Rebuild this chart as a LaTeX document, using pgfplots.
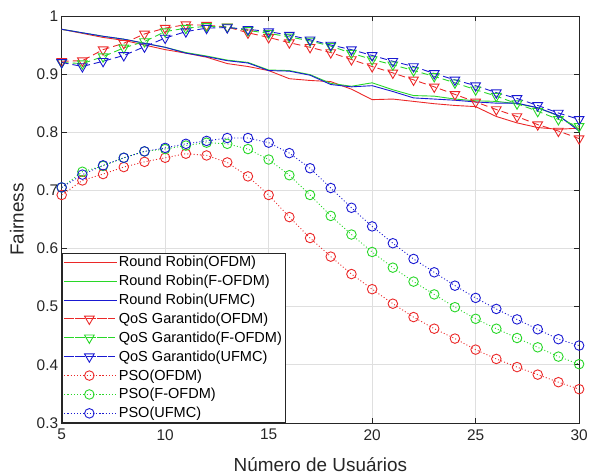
\documentclass[border=0pt]{standalone}
\usepackage{fontspec}
\setmainfont{Liberation Sans}
\usepackage{pgfplots}
\pgfplotsset{compat=1.18}

\definecolor{mred}{RGB}{235,40,40}
\definecolor{mgreen}{RGB}{40,215,40}
\definecolor{mblue}{RGB}{25,25,210}

\pgfplotsset{
    rr/.style={color=#1, draw=#1, line width=0.9pt, mark=none},
    qos/.style={color=#1, draw=#1, line width=0.9pt, dash pattern=on 7pt off 4pt,
        mark=triangle, mark size=5.6pt, mark options={solid, rotate=180, draw=#1, fill=none}},
    pso/.style={color=#1, draw=#1, line width=0.9pt, dash pattern=on 1pt off 2.2pt,
        mark=o, mark size=4.8pt, mark options={solid, draw=#1}},
}

\begin{document}
\begin{tikzpicture}
\begin{axis}[
    name=ax,
    scale only axis,
    width=520pt, height=409pt,
    xmin=5, xmax=30, ymin=0.3, ymax=1,
    xtick={5,10,...,30},
    ytick={0.3,0.4,...,1.0},
    yticklabels={0.3,0.4,0.5,0.6,0.7,0.8,0.9,1},
    grid=major,
    major grid style={gray!25, line width=0.6pt},
    axis line style={black!85, line width=0.7pt},
    tick style={black!85, line width=0.7pt},
    tick align=inside,
    major tick length=5pt,
    /pgf/number format/assume math mode=true,
    ticklabel style={font=\fontsize{15.5}{18}\selectfont, text=black!85},
    xticklabel style={yshift=-3pt},
    xlabel={Número de Usuários},
    ylabel={Fairness},
    label style={font=\fontsize{19}{22}\selectfont, text=black!85},
    xlabel style={yshift=-10pt},
    ylabel style={yshift=6pt},
    legend cell align=left,
    legend style={at={(0,0)}, anchor=south west, draw=black!85, line width=0.7pt,
        font=\fontsize{14.6}{16}\selectfont, row sep=4.5pt, inner sep=2pt,
        nodes={inner sep=1.2pt}},
    legend image code/.code={
        \path (0pt,0pt) -- (53pt,0pt);
        \draw[mark repeat=2,mark phase=2,#1] plot coordinates {(3pt,0pt) (25pt,0pt) (47pt,0pt)};},
]
% Round Robin
\addplot[rr=mred] coordinates {
(5,0.977)(6,0.970)(7,0.963)(8,0.958)(9,0.950)(10,0.942)(11,0.936)(12,0.929)(13,0.918)(14,0.913)(15,0.906)
(16,0.892)(17,0.889)(18,0.887)(19,0.874)(20,0.856)(21,0.857)(22,0.853)(23,0.849)(24,0.846)(25,0.844)
(26,0.827)(27,0.816)(28,0.808)(29,0.805)(30,0.807)};
\addplot[rr=mgreen] coordinates {
(5,0.977)(6,0.971)(7,0.965)(8,0.960)(9,0.953)(10,0.946)(11,0.937)(12,0.931)(13,0.924)(14,0.920)(15,0.907)
(16,0.906)(17,0.899)(18,0.884)(19,0.879)(20,0.885)(21,0.873)(22,0.863)(23,0.862)(24,0.857)(25,0.854)
(26,0.853)(27,0.849)(28,0.842)(29,0.828)(30,0.805)};
\addplot[rr=mblue] coordinates {
(5,0.977)(6,0.971)(7,0.965)(8,0.960)(9,0.953)(10,0.946)(11,0.936)(12,0.930)(13,0.923)(14,0.919)(15,0.906)
(16,0.905)(17,0.898)(18,0.882)(19,0.878)(20,0.880)(21,0.870)(22,0.859)(23,0.857)(24,0.855)(25,0.852)
(26,0.850)(27,0.850)(28,0.842)(29,0.829)(30,0.802)};
% QoS Garantido
\addplot[qos=mred] coordinates {
(5,0.922)(6,0.923)(7,0.942)(8,0.953)(9,0.969)(10,0.979)(11,0.985)(12,0.984)(13,0.981)(14,0.971)(15,0.963)
(16,0.954)(17,0.946)(18,0.937)(19,0.925)(20,0.913)(21,0.902)(22,0.890)(23,0.878)(24,0.865)(25,0.852)
(26,0.839)(27,0.827)(28,0.813)(29,0.802)(30,0.789)};
\addplot[qos=mgreen] coordinates {
(5,0.920)(6,0.918)(7,0.930)(8,0.945)(9,0.956)(10,0.973)(11,0.979)(12,0.982)(13,0.981)(14,0.975)(15,0.970)
(16,0.964)(17,0.957)(18,0.948)(19,0.936)(20,0.925)(21,0.916)(22,0.906)(23,0.896)(24,0.885)(25,0.873)
(26,0.862)(27,0.849)(28,0.836)(29,0.822)(30,0.810)};
\addplot[qos=mblue] coordinates {
(5,0.920)(6,0.913)(7,0.922)(8,0.932)(9,0.947)(10,0.962)(11,0.973)(12,0.979)(13,0.980)(14,0.977)(15,0.973)
(16,0.967)(17,0.959)(18,0.950)(19,0.942)(20,0.932)(21,0.922)(22,0.913)(23,0.901)(24,0.890)(25,0.880)
(26,0.868)(27,0.858)(28,0.846)(29,0.833)(30,0.822)};
% PSO
\addplot[pso=mred] coordinates {
(5,0.692)(6,0.717)(7,0.728)(8,0.740)(9,0.749)(10,0.756)(11,0.763)(12,0.760)(13,0.748)(14,0.724)(15,0.692)
(16,0.654)(17,0.618)(18,0.586)(19,0.556)(20,0.530)(21,0.505)(22,0.482)(23,0.462)(24,0.445)(25,0.426)
(26,0.410)(27,0.396)(28,0.383)(29,0.370)(30,0.358)};
\addplot[pso=mgreen] coordinates {
(5,0.705)(6,0.732)(7,0.742)(8,0.756)(9,0.767)(10,0.771)(11,0.777)(12,0.782)(13,0.780)(14,0.771)(15,0.753)
(16,0.726)(17,0.692)(18,0.656)(19,0.624)(20,0.594)(21,0.567)(22,0.543)(23,0.521)(24,0.499)(25,0.479)
(26,0.462)(27,0.446)(28,0.430)(29,0.414)(30,0.401)};
\addplot[pso=mblue] coordinates {
(5,0.705)(6,0.727)(7,0.743)(8,0.756)(9,0.767)(10,0.773)(11,0.780)(12,0.785)(13,0.790)(14,0.790)(15,0.782)
(16,0.764)(17,0.738)(18,0.704)(19,0.670)(20,0.638)(21,0.609)(22,0.582)(23,0.559)(24,0.536)(25,0.515)
(26,0.496)(27,0.478)(28,0.461)(29,0.444)(30,0.433)};
\legend{Round Robin(OFDM), Round Robin(F-OFDM), Round Robin(UFMC),
    QoS Garantido(OFDM), QoS Garantido(F-OFDM), QoS Garantido(UFMC),
    PSO(OFDM), PSO(F-OFDM), PSO(UFMC)}
\end{axis}
\path[use as bounding box] ([xshift=-62pt,yshift=-53pt]ax.south west) rectangle ([xshift=9pt,yshift=16pt]ax.north east);
\end{tikzpicture}
\end{document}
